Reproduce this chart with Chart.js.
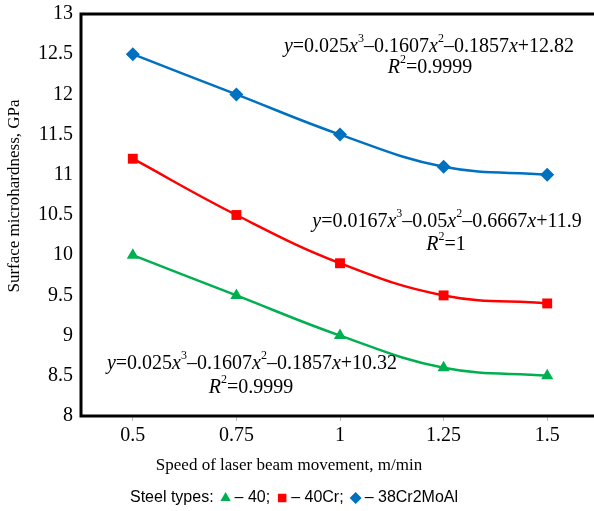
<!DOCTYPE html>
<html lang="en">
<head>
<meta charset="UTF-8">
<title>Surface microhardness vs laser speed</title>
<script src="https://cdn.jsdelivr.net/npm/chart.js"></script>
<style>
  body { margin: 0; background: #fff; overflow: hidden; }
  .wrap { width: 610px; height: 519px; margin-top: -6px; }
</style>
</head>
<body>
<div class="wrap"><canvas id="chart"></canvas></div>
<script>
// data
const speeds = ['0.5', '0.75', '1', '1.25', '1.5'];
const steel40 = [10.0, 9.5, 9.0, 8.6, 8.5];
const steel40Cr = [11.2, 10.5, 9.9, 9.5, 9.4];
const steel38Cr2MoAl = [12.5, 12.0, 11.5, 11.1, 11.0];
const yMin = 8, yMax = 13, yStep = 0.5;

const eqBlue = ['y=0.025x^3–0.1607x^2–0.1857x+12.82', 'R^2=0.9999'];
const eqRed = ['y=0.0167x^3–0.05x^2–0.6667x+11.9', 'R^2=1'];
const eqGreen = ['y=0.025x^3–0.1607x^2–0.1857x+10.32', 'R^2=0.9999'];

const SERIF = '"Liberation Serif", "Times New Roman", serif';
const SANS = '"Liberation Sans", Arial, sans-serif';
const SHIFT = 6; // canvas is pulled up by this much in css

// split "y=0.025x^3" into plain / italic / superscript pieces
function parseEq(s) {
  const out = [];
  for (let i = 0; i < s.length; i++) {
    const c = s[i];
    if (c === '^') { out.push({ t: s[++i], sup: true }); }
    else if ('xyR'.includes(c)) { out.push({ t: c, it: true }); }
    else if (out.length && !out[out.length - 1].it && !out[out.length - 1].sup) { out[out.length - 1].t += c; }
    else { out.push({ t: c }); }
  }
  return out;
}

function segFont(seg) {
  if (seg.sup) return '12px ' + SERIF;
  return (seg.it ? 'italic ' : '') + '20px ' + SERIF;
}

function drawEq(ctx, str, cx, cy) {
  const segs = parseEq(str);
  let w = 0;
  segs.forEach(s => { ctx.font = segFont(s); s.w = ctx.measureText(s.t).width; w += s.w; });
  let x = cx - w / 2;
  ctx.textBaseline = 'middle';
  ctx.textAlign = 'left';
  segs.forEach(s => {
    ctx.font = segFont(s);
    ctx.fillText(s.t, x, s.sup ? cy - 8 : cy);
    x += s.w;
  });
}

const overlay = {
  id: 'overlay',
  beforeDatasetsDraw(chart) {
    const { ctx, chartArea: a } = chart;
    ctx.save();
    ctx.strokeStyle = '#000';
    ctx.lineWidth = 3;
    ctx.strokeRect(a.left, a.top, a.right - a.left, a.bottom - a.top);
    ctx.restore();
  },
  afterDraw(chart) {
    const { ctx } = chart;
    ctx.save();
    ctx.translate(0, SHIFT);
    ctx.fillStyle = '#000';

    drawEq(ctx, eqBlue[0], 429, 47);
    drawEq(ctx, eqBlue[1], 430, 68);
    drawEq(ctx, eqRed[0], 447, 222);
    drawEq(ctx, eqRed[1], 446, 245);
    drawEq(ctx, eqGreen[0], 252, 364);
    drawEq(ctx, eqGreen[1], 251, 388);

    // axis titles
    ctx.font = '17px ' + SERIF;
    ctx.textAlign = 'center';
    ctx.textBaseline = 'middle';
    ctx.fillText('Speed of laser beam movement, m/min', 289, 466);
    ctx.save();
    ctx.translate(15, 196);
    ctx.rotate(-Math.PI / 2);
    ctx.fillText('Surface microhardness, GPa', 0, 0);
    ctx.restore();

    // legend: "Steel types: ▲ – 40; ■ – 40Cr; ◆ – 38Cr2MoAl"
    const ds = chart.data.datasets;
    const items = [ds[0], ds[1], ds[2]];
    ctx.font = '16px ' + SANS;
    const head = 'Steel types:';
    const gap = 6, mark = 12;
    let total = ctx.measureText(head).width;
    items.forEach(d => { total += gap + mark + 3 + ctx.measureText(d.label).width; });
    let x = 294 - total / 2;
    const y = 498;
    ctx.textAlign = 'left';
    ctx.fillText(head, x, y);
    x += ctx.measureText(head).width;
    items.forEach(d => {
      x += gap;
      ctx.fillStyle = d.backgroundColor;
      Chart.helpers.drawPoint(ctx, { pointStyle: d.pointStyle, radius: 6, rotation: 0, borderWidth: 0 }, x + mark / 2, y);
      x += mark + 3;
      ctx.fillStyle = '#000';
      ctx.fillText(d.label, x, y);
      x += ctx.measureText(d.label).width;
    });
    ctx.restore();
  }
};

function series(label, data, color, style) {
  return {
    label, data,
    borderColor: color,
    backgroundColor: color,
    borderWidth: 2.5,
    pointStyle: style,
    pointRadius: 7,
    pointBorderWidth: 0,
    pointBackgroundColor: color,
    tension: 0.4,
    fill: false
  };
}

new Chart(document.getElementById('chart'), {
  type: 'line',
  data: {
    labels: speeds,
    datasets: [
      series('– 40;', steel40, '#00B050', 'triangle'),
      series('– 40Cr;', steel40Cr, '#FF0000', 'rect'),
      series('– 38Cr2MoAl', steel38Cr2MoAl, '#0070C0', 'rectRot')
    ]
  },
  options: {
    responsive: true,
    maintainAspectRatio: false,
    animation: false,
    layout: { padding: { top: 7, right: 11, left: 0, bottom: 0 } },
    plugins: { legend: { display: false }, tooltip: { enabled: false } },
    scales: {
      x: {
        offset: true,
        afterFit: s => { s.height = 97; },
        grid: { drawOnChartArea: false, drawTicks: true, tickLength: 5, color: '#bbb' },
        border: { display: false },
        ticks: { color: '#000', padding: 3, font: { family: SERIF, size: 20 } }
      },
      y: {
        min: yMin, max: yMax,
        afterFit: s => { s.width = 81; },
        grid: { display: false, drawTicks: false },
        border: { display: false },
        ticks: {
          stepSize: yStep, color: '#000', padding: 8, font: { family: SERIF, size: 20 },
          callback: v => String(+v.toFixed(1))
        }
      }
    }
  },
  plugins: [overlay]
});
</script>
</body>
</html>
